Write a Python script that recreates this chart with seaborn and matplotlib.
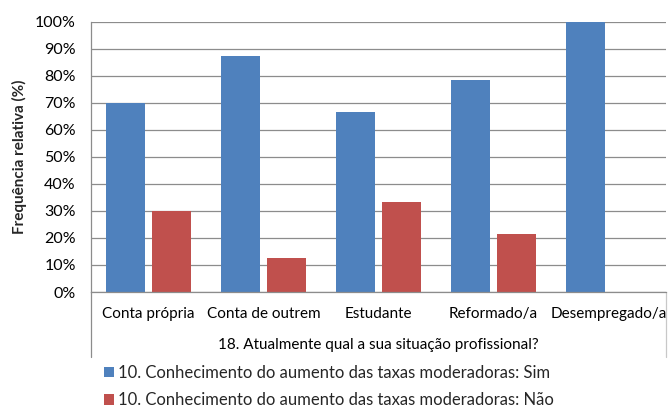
import matplotlib
matplotlib.use("Agg")
import matplotlib.pyplot as plt
import seaborn as sns
import pandas as pd
from matplotlib.patches import Patch

categories = ["Conta própria", "Conta de outrem", "Estudante", "Reformado/a", "Desempregado/a"]
sim_values = [70.0, 87.5, 66.7, 78.6, 100.0]
nao_values = [30.0, 12.5, 33.3, 21.4, 0.0]
series_names = ["10. Conhecimento do aumento das taxas moderadoras: Sim",
                "10. Conhecimento do aumento das taxas moderadoras: Não"]
y_ticks = [0, 10, 20, 30, 40, 50, 60, 70, 80, 90, 100]
y_tick_labels = [f"{v}%" for v in y_ticks]
x_title = "18. Atualmente qual a sua situação profissional?"
y_title = "Frequência relativa (%)"
colors = ["#4F81BD", "#C0504D"]

df = pd.DataFrame({
    "cat": categories * 2,
    "val": sim_values + nao_values,
    "serie": [series_names[0]] * len(categories) + [series_names[1]] * len(categories),
})

sns.set_theme(style="white")
plt.rcParams["font.family"] = ["Lato", "DejaVu Sans"]

fig = plt.figure(figsize=(6.69, 4.09), dpi=100)
ax = fig.add_axes([91 / 669, 1 - 292 / 409, (666 - 91) / 669, 270 / 409])

sns.barplot(data=df, x="cat", y="val", hue="serie", order=categories,
            hue_order=series_names, palette=colors, width=0.8, gap=0.15,
            saturation=1, ax=ax, legend=False, linewidth=0)

ax.set_xlim(-0.5, len(categories) - 0.5)
ax.set_ylim(0, 100)
ax.set_yticks(y_ticks)
ax.set_yticklabels(y_tick_labels, fontsize=11.5, color="#000000")
ax.tick_params(axis="x", labelsize=11, colors="#000000", length=0, pad=11)
ax.tick_params(axis="y", length=0, pad=11)
ax.yaxis.grid(True, color="#8C8C8C", linewidth=0.9)
ax.set_axisbelow(True)
for s in ["top", "right"]:
    ax.spines[s].set_visible(False)
ax.spines["left"].set_color("#8C8C8C")
ax.spines["bottom"].set_color("#8C8C8C")
ax.spines["left"].set_linewidth(0.9)
ax.spines["bottom"].set_linewidth(0.9)
ax.set_xlabel("")
ax.set_ylabel(y_title, fontsize=11, fontweight="bold", labelpad=6)

# extended category axis frame (Excel style)
bottom_y = (292 - 357) / 270
ax.plot([0, 0], [0, bottom_y], transform=ax.transAxes, color="#8C8C8C",
        linewidth=0.9, clip_on=False)
ax.plot([1, 1], [0, bottom_y], transform=ax.transAxes, color="#C8C8C8",
        linewidth=0.9, clip_on=False)

fig.text((91 + 666) / 2 / 669, 1 - 345 / 409, x_title, ha="center", va="center",
         fontsize=11, color="#000000")

handles = [Patch(facecolor=c, edgecolor="none") for c in colors]
fig.legend(handles, series_names, loc="upper left",
           bbox_to_anchor=(104 / 669, 1 - 365 / 409), frameon=False,
           fontsize=12, handlelength=0.6, handleheight=0.6,
           handletextpad=0.25, labelspacing=0.68, borderpad=0, borderaxespad=0)

fig.savefig("out.png", dpi=100, facecolor="white")
